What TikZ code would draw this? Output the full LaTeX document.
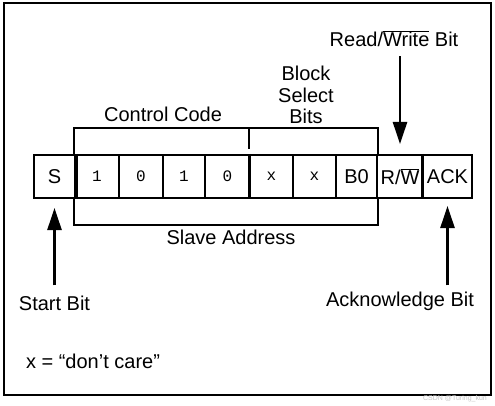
\documentclass[tikz,border=0pt]{standalone}
\usepackage{fontspec}
\setmainfont{Liberation Sans}
\newfontfamily\monof{Liberation Mono}
\usetikzlibrary{arrows.meta}
\begin{document}
\begin{tikzpicture}[x=1pt,y=-1pt,
 cell/.style={draw,line width=2pt,minimum height=43pt,inner sep=0pt,font=\fontsize{20}{24}\selectfont},
 mcell/.style={cell,font=\monof\fontsize{16}{20}\selectfont},
 lbl/.style={font=\fontsize{20}{21.5}\selectfont,inner sep=0pt,align=center},
 arr/.style={line width=2.5pt,-{Triangle[length=22pt,width=14pt]}},
 brk/.style={line width=2pt},
 sep/.style={line width=3pt}]
\useasboundingbox (0,0) rectangle (495,406);
\draw[line width=2pt] (3.5,3.5) rectangle (490.5,395);
% cells
\node[cell,minimum width=41pt] (S) at (54.5,176.5) {S};
\node[mcell,minimum width=44pt] (b1) at (97,176.5) {1};
\node[mcell,minimum width=44pt] (b2) at (141,176.5) {0};
\node[mcell,minimum width=42pt] (b3) at (184,176.5) {1};
\node[mcell,minimum width=45pt] (b4) at (227.5,176.5) {0};
\node[mcell,minimum width=43pt] (x1) at (271.5,176.5) {x};
\node[mcell,minimum width=43pt] (x2) at (314.5,176.5) {x};
\node[cell,minimum width=41pt] (B0) at (356.5,176.5) {B0};
\node[cell,minimum width=46pt] (RW) at (400,176.5) {R/$\overline{\mbox{W}}$};
\node[cell,minimum width=49pt] (ACK) at (447.5,176.5) {ACK};
\draw[sep] (S.north east) -- (S.south east);
\draw[sep] (x1.north west) -- (x1.south west);
\draw[sep] (ACK.north west) -- (ACK.south west);
% brackets
\draw[brk] (b1.north west) -- ([yshift=26pt]b1.north west) -- ([yshift=26pt]B0.north east) -- (B0.north east);
\draw[brk] ([yshift=26pt]x1.north west) -- ([yshift=5pt]x1.north west);
\draw[brk] (b1.south west) -- ([yshift=-26pt]b1.south west) -- ([yshift=-26pt]B0.south east) -- (B0.south east);
% labels
\node[lbl,anchor=base] (cc) at (163,122) {Control Code};
\node[lbl] (bsb) at (306,95) {Block\\Select\\Bits};
\node[lbl,anchor=base] (sa) at (231,244) {Slave Address};
\node[lbl,anchor=base] (start) at (54.5,310) {Start Bit};
\node[lbl,anchor=base] (ackl) at (400,306) {Acknowledge Bit};
\node[lbl,anchor=base] (rwl) at (394,47) {Read/$\overline{\mbox{Write}}$ Bit};
\node[lbl,anchor=base] (dc) at (93,368) {x = “don’t care”};
\node[font=\fontsize{7}{8}\selectfont,text=gray!45,inner sep=0pt] (wm) at (455,399) {CSDN @Turing\_kun};
% arrows
\draw[arr] ([yshift=10pt]start.north -| S.south) -- ([yshift=-9pt]S.south);
\draw[arr] ([yshift=-9pt]rwl.south -| RW.north) -- ([yshift=10pt]RW.north);
\draw[arr] ([yshift=6pt]ackl.north -| ACK.south) -- ([yshift=-7pt]ACK.south);
\end{tikzpicture}
\end{document}
